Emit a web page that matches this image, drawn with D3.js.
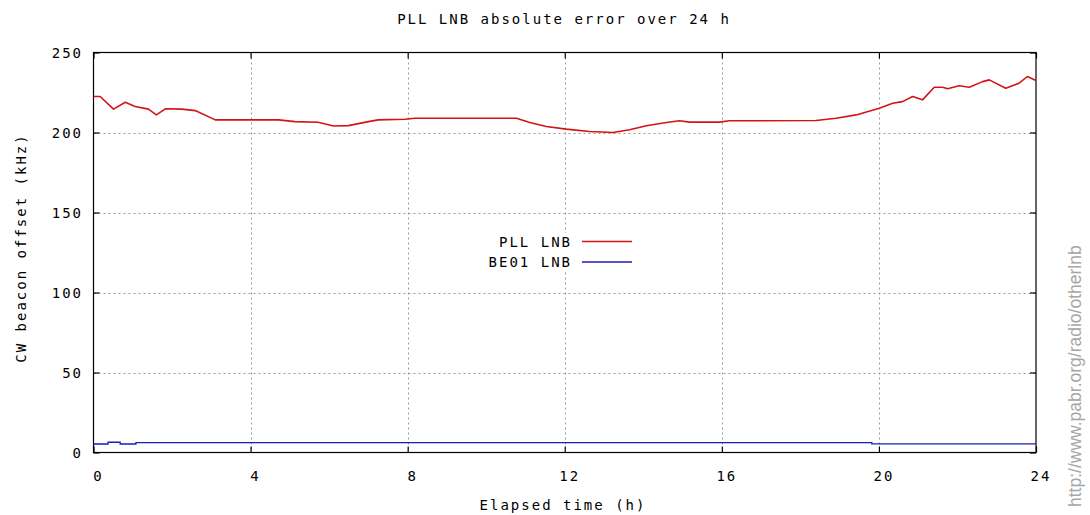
<!DOCTYPE html>
<html>
<head>
<meta charset="utf-8">
<script src="https://cdn.jsdelivr.net/npm/d3@7"></script>
<style>
  html, body { margin: 0; padding: 0; background: #fff; }
  svg { display: block; }
  .mono { font-family: "DejaVu Sans Mono", monospace; font-size: 14px; letter-spacing: 2px; fill: #000; }
</style>
</head>
<body>
<svg id="chart" width="1090" height="515"></svg>
<script>
// ---- data ----
const titleText = "PLL LNB absolute error over 24 h";
const xLabel = "Elapsed time (h)";
const yLabel = "CW beacon offset (kHz)";
const watermark = "http://www.pabr.org/radio/otherlnb";
const xTicks = [0, 4, 8, 12, 16, 20, 24];
const yTicks = [0, 50, 100, 150, 200, 250];
const seriesNames = ["PLL LNB", "BE01 LNB"];
const seriesColors = ["#d41414", "#1c1cb4"];

const pllHours = [0, 0.17, 0.51, 0.81, 1.06, 1.40, 1.60, 1.83, 2.25, 2.59, 3.10, 3.27, 4.03, 4.71, 5.13, 5.72, 6.11, 6.49, 7.0, 7.25, 7.93, 8.18, 10.77, 11.11, 11.53, 12.04, 12.63, 13.23, 13.65, 14.08, 14.59, 14.92, 15.18, 15.94, 16.19, 18.40, 18.91, 19.42, 20.01, 20.35, 20.60, 20.86, 21.11, 21.41, 21.62, 21.75, 22.04, 22.30, 22.64, 22.81, 23.23, 23.57, 23.78, 24.0];
const pllValues = [222.5, 222.5, 214.6, 218.9, 216.2, 214.6, 211.0, 214.8, 214.6, 213.7, 207.9, 207.9, 207.9, 207.9, 206.8, 206.4, 204.1, 204.3, 206.8, 207.9, 208.3, 208.9, 208.9, 206.2, 203.7, 202.1, 200.6, 200.0, 201.7, 204.2, 206.2, 207.3, 206.5, 206.5, 207.3, 207.5, 208.9, 211.0, 215.2, 218.3, 219.3, 222.5, 220.4, 228.3, 228.3, 227.3, 229.2, 228.3, 231.8, 232.9, 227.7, 230.8, 235.0, 232.5];

const be01Hours = [0, 0.37, 0.68, 1.08, 19.82, 24];
const be01Values = [5.3, 6.4, 5.3, 6.2, 5.4, 5.4];

// ---- layout ----
const svg = d3.select("#chart");
const L = 93.5, R = 1036, T = 52.5, B = 452.5;
const x = d3.scaleLinear().domain([0, 24]).range([L, R]);
const y = d3.scaleLinear().domain([0, 250]).range([B, T]);

// grid
const gridX = xTicks.filter(d => d > 0 && d < 24);
const gridY = yTicks.filter(d => d > 0 && d < 250);
svg.append("g").selectAll("line").data(gridX).join("line")
  .attr("x1", d => Math.round(x(d)) + 0.5).attr("x2", d => Math.round(x(d)) + 0.5)
  .attr("y1", T).attr("y2", B)
  .attr("stroke", "#9a9a9a").attr("stroke-width", 1).attr("stroke-dasharray", "2,3");
svg.append("g").selectAll("line").data(gridY).join("line")
  .attr("y1", d => Math.round(y(d)) + 0.5).attr("y2", d => Math.round(y(d)) + 0.5)
  .attr("x1", L).attr("x2", R)
  .attr("stroke", "#9a9a9a").attr("stroke-width", 1).attr("stroke-dasharray", "2,3");

// axes (inward ticks, mirrored)
const tickLen = 6;
const axB = svg.append("g").attr("transform", `translate(0,${B})`)
  .call(d3.axisBottom(x).tickValues(xTicks).tickSize(-tickLen).tickFormat(""));
const axT = svg.append("g").attr("transform", `translate(0,${T})`)
  .call(d3.axisTop(x).tickValues(xTicks).tickSize(-tickLen).tickFormat(""));
const axL = svg.append("g").attr("transform", `translate(${L},0)`)
  .call(d3.axisLeft(y).tickValues(yTicks).tickSize(-tickLen).tickFormat(""));
const axR = svg.append("g").attr("transform", `translate(${R},0)`)
  .call(d3.axisRight(y).tickValues(yTicks).tickSize(-tickLen).tickFormat(""));
[axB, axT, axL, axR].forEach(a => {
  a.select(".domain").remove();
  a.selectAll("line").attr("stroke", "#000").attr("stroke-width", 1.2);
});

// frame
svg.append("rect").attr("x", L).attr("y", T).attr("width", R - L).attr("height", B - T)
  .attr("fill", "none").attr("stroke", "#000").attr("stroke-width", 1.2);

// tick labels
svg.append("g").selectAll("text").data(xTicks).join("text")
  .attr("class", "mono").attr("x", d => x(d) + 5).attr("y", 476)
  .attr("text-anchor", "middle").attr("dominant-baseline", "central")
  .text(d => d);
svg.append("g").selectAll("text").data(yTicks).join("text")
  .attr("class", "mono").attr("x", 83).attr("y", d => y(d))
  .attr("text-anchor", "end").attr("dominant-baseline", "central")
  .text(d => d);

// titles
svg.append("text").attr("class", "mono").attr("x", 564).attr("y", 19)
  .attr("text-anchor", "middle").attr("dominant-baseline", "central").text(titleText);
svg.append("text").attr("class", "mono").attr("x", 563).attr("y", 505)
  .attr("text-anchor", "middle").attr("dominant-baseline", "central").text(xLabel);
svg.append("text").attr("class", "mono")
  .attr("transform", "translate(21,248) rotate(-90)")
  .attr("text-anchor", "middle").attr("dominant-baseline", "central").text(yLabel);

// lines
const pllData = pllHours.map((h, i) => [h, pllValues[i]]);
const beData = be01Hours.map((h, i) => [h, be01Values[i]]);
svg.append("path").datum(beData)
  .attr("fill", "none").attr("stroke", seriesColors[1]).attr("stroke-width", 1.3)
  .attr("d", d3.line().x(d => x(d[0])).y(d => y(d[1])).curve(d3.curveStepAfter));
svg.append("path").datum(pllData)
  .attr("fill", "none").attr("stroke", seriesColors[0]).attr("stroke-width", 1.6)
  .attr("stroke-linejoin", "round")
  .attr("d", d3.line().x(d => x(d[0])).y(d => y(d[1])));

// legend
const leg = svg.append("g");
leg.append("rect").attr("x", 486).attr("y", 233).attr("width", 150).attr("height", 37).attr("fill", "#fff");
seriesNames.forEach((name, i) => {
  const yy = 241.5 + i * 20.5;
  leg.append("text").attr("class", "mono").attr("x", 572).attr("y", yy)
    .attr("text-anchor", "end").attr("dominant-baseline", "central").text(name);
  leg.append("line").attr("x1", 582).attr("x2", 632).attr("y1", yy).attr("y2", yy)
    .attr("stroke", seriesColors[i]).attr("stroke-width", 1.3);
});

// watermark
svg.append("text")
  .attr("transform", "translate(1081,507) rotate(-90)")
  .attr("text-anchor", "start")
  .style("font-family", "'Liberation Sans', Arial, sans-serif")
  .style("font-size", "17.5px")
  .attr("fill", "#a6a6a6")
  .text(watermark);
</script>
</body>
</html>
